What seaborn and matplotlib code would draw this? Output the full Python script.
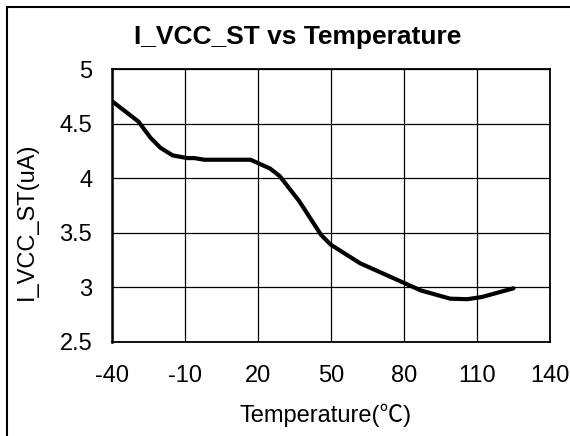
import matplotlib
matplotlib.use("Agg")
import matplotlib.pyplot as plt
import seaborn as sns
import pandas as pd
from matplotlib.lines import Line2D

temperature = [-40, -29, -24, -20, -15, -9, -6, -2, 17, 21, 25, 29, 37, 46, 50, 62, 74, 87, 99, 106, 112, 125]
current_ua = [4.71, 4.52, 4.37, 4.28, 4.21, 4.185, 4.185, 4.17, 4.17, 4.13, 4.09, 4.02, 3.79, 3.48, 3.39, 3.22, 3.10, 2.97, 2.895, 2.89, 2.91, 2.99]
x_ticks = [-40, -10, 20, 50, 80, 110, 140]
y_ticks = [2.5, 3, 3.5, 4, 4.5, 5]
y_tick_labels = ["2.5", "3", "3.5", "4", "4.5", "5"]

sns.set_theme(style="white")
plt.rcParams['font.family'] = ['Liberation Sans', 'Noto Sans CJK SC', 'DejaVu Sans']

df = pd.DataFrame({"T": temperature, "I": current_ua})

W, H = 570, 436
fig = plt.figure(figsize=(W / 100, H / 100), dpi=100)
ax = fig.add_axes([111.7 / W, 1 - 341.7 / H, (550 - 111.7) / W, (341.7 - 69.3) / H])

sns.lineplot(data=df, x="T", y="I", ax=ax, color="black", linewidth=3.0, sort=False)

ax.set_xlim(-40, 140)
ax.set_ylim(2.5, 5)
ax.set_xticks(x_ticks)
ax.set_xticklabels([str(v) for v in x_ticks])
ax.set_yticks(y_ticks)
ax.set_yticklabels(y_tick_labels)
ax.grid(True, color="black", linewidth=0.9)
ax.set_axisbelow(True)
for s in ax.spines.values():
    s.set_color("black")
    s.set_linewidth(1.3)
ax.spines["left"].set_linewidth(1.8)
ax.tick_params(axis="both", length=0, labelsize=17, colors="black")
ax.tick_params(axis="y", pad=14)
ax.tick_params(axis="x", pad=17)
ax.set_xlabel("")
ax.set_ylabel("")

fig.text(298 / W, 1 - 37 / H, "I_VCC_ST vs Temperature", ha="center", va="center",
         fontsize=19, fontweight="bold", color="black")
fig.text(326 / W, 1 - 415 / H, "Temperature(℃)", ha="center", va="center",
         fontsize=17, color="black")
fig.text(27 / W, 1 - 221 / H, "I_VCC_ST(uA)", ha="center", va="center",
         fontsize=17, rotation=90, color="black")

# figure frame (left and top edges visible)
fig.add_artist(Line2D([6.7 / W, 6.7 / W], [0, 1 - 7.3 / H], transform=fig.transFigure,
                      color="black", linewidth=1.5))
fig.add_artist(Line2D([6.7 / W, 1], [1 - 7.3 / H, 1 - 7.3 / H], transform=fig.transFigure,
                      color="black", linewidth=1.5))

fig.savefig("out.png", dpi=100, facecolor="white")
